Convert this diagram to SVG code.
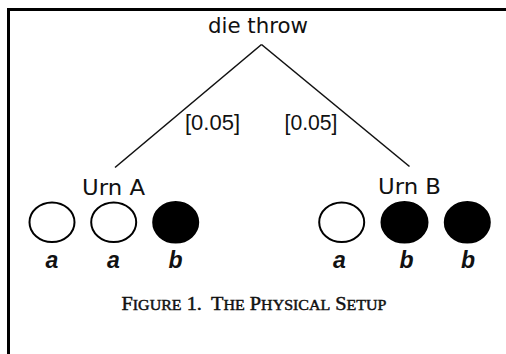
<svg xmlns="http://www.w3.org/2000/svg" width="506" height="354" viewBox="0 0 506 354">
  <style>
    .frame { fill: none; stroke: #000; stroke-width: 3; }
    .edge { stroke: #111; stroke-width: 1.6; fill: none; }
    .lbl { font-family: "DejaVu Sans", "Liberation Sans", sans-serif; font-size: 21px; fill: #111; text-anchor: middle; }
    .prob { font-family: "Liberation Sans", Arial, sans-serif; font-size: 22px; fill: #111; text-anchor: middle; }
    .ball { stroke: #000; stroke-width: 2; }
    .white { fill: #fff; }
    .black { fill: #000; }
    .kind { font-family: "Liberation Sans", Arial, sans-serif; font-size: 23px; font-style: italic; font-weight: bold; fill: #111; text-anchor: middle; }
    .caption { font-family: "Liberation Serif", "Times New Roman", serif; font-size: 18.5px; fill: #111; stroke: #111; stroke-width: 0.45; text-anchor: middle; }
    .sc { font-size: 14.5px; }
  </style>
  <rect width="506" height="354" fill="#fff"/>
  <!-- open frame: top and left rules -->
  <path class="frame" d="M8.5 354 V9.5 H506"/>

  <g id="connectors">
    <line class="edge" x1="261.5" y1="44.5" x2="115" y2="167.5"/>
    <line class="edge" x1="261.5" y1="44.5" x2="409.5" y2="166.5"/>
    <text class="prob" x="212.5" y="130" textLength="55" lengthAdjust="spacingAndGlyphs">[0.05]</text>
    <text class="prob" x="311" y="130" textLength="53" lengthAdjust="spacingAndGlyphs">[0.05]</text>
  </g>

  <g id="die-throw">
    <text class="lbl" x="258" y="33" textLength="100" lengthAdjust="spacingAndGlyphs">die throw</text>
  </g>

  <g id="urn-a">
    <text class="lbl" x="113.5" y="195" textLength="63" lengthAdjust="spacingAndGlyphs">Urn A</text>
    <ellipse class="ball white" cx="52" cy="222.3" rx="22.5" ry="19.8"/>
    <ellipse class="ball white" cx="113.7" cy="222.3" rx="22.5" ry="19.8"/>
    <ellipse class="ball black" cx="175.7" cy="222.3" rx="22.5" ry="20.3"/>
    <text class="kind" x="52" y="268">a</text>
    <text class="kind" x="113.5" y="268">a</text>
    <text class="kind" x="175.5" y="268">b</text>
  </g>

  <g id="urn-b">
    <text class="lbl" x="409.5" y="194" textLength="63" lengthAdjust="spacingAndGlyphs">Urn B</text>
    <ellipse class="ball white" cx="341.7" cy="222.3" rx="22.5" ry="19.8"/>
    <ellipse class="ball black" cx="404.5" cy="222.3" rx="23" ry="20.3"/>
    <ellipse class="ball black" cx="467.3" cy="222.3" rx="22.5" ry="20.3"/>
    <text class="kind" x="339.5" y="268">a</text>
    <text class="kind" x="406.5" y="268">b</text>
    <text class="kind" x="468" y="268">b</text>
  </g>

  <g id="caption">
    <text class="caption" x="254" y="310" textLength="265" lengthAdjust="spacingAndGlyphs">F<tspan class="sc">IGURE</tspan> 1. <tspan dx="4">T</tspan><tspan class="sc">HE</tspan> P<tspan class="sc">HYSICAL</tspan> S<tspan class="sc">ETUP</tspan></text>
  </g>
</svg>
